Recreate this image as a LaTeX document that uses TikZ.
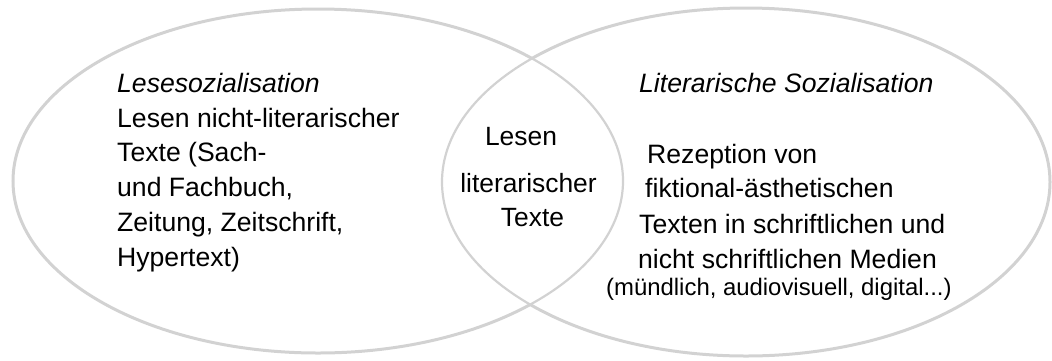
\documentclass[tikz,border=0pt]{standalone}
\usepackage{fontspec}
\setmainfont{Liberation Sans}
\definecolor{ringgray}{RGB}{210,210,210}
\tikzset{
  ring/.style={draw=ringgray, line width=3pt},
  ringin/.style={draw=ringgray, line width=2.2pt},
  txt/.style={anchor=base west, inner sep=0pt, font=\fontsize{26.6}{30}\selectfont},
  ctxt/.style={anchor=base, inner sep=0pt, font=\fontsize{26.4}{30}\selectfont},
  smalltxt/.style={anchor=base west, inner sep=0pt, font=\fontsize{23.9}{27}\selectfont}
}
\begin{document}
\begin{tikzpicture}[x=1pt,y=-1pt]
\useasboundingbox (0,0) rectangle (1052,360);
% ellipses: outer parts thicker, inner (lens) parts thinner
\begin{scope}[even odd rule]
  \clip (-10,-10) rectangle (1062,370) (746,182) ellipse [x radius=304, y radius=174];
  \draw[ring] (318,181) ellipse [x radius=305, y radius=172];
\end{scope}
\begin{scope}
  \clip (746,182) ellipse [x radius=304, y radius=174];
  \draw[ringin] (318,181) ellipse [x radius=305, y radius=172];
\end{scope}
\begin{scope}[even odd rule]
  \clip (-10,-10) rectangle (1062,370) (318,181) ellipse [x radius=305, y radius=172];
  \draw[ring] (746,182) ellipse [x radius=304, y radius=174];
\end{scope}
\begin{scope}
  \clip (318,181) ellipse [x radius=305, y radius=172];
  \draw[ringin] (746,182) ellipse [x radius=304, y radius=174];
\end{scope}
% left text
\node[txt] (l1) at (117,92) {\itshape Lesesozialisation};
\node[txt] (l2) at (117,127) {Lesen nicht-literarischer};
\node[txt] (l3) at (117,161.5) {Texte (Sach-};
\node[txt] (l4) at (117,196.5) {und Fachbuch,};
\node[txt] (l5) at (117,231) {Zeitung, Zeitschrift,};
\node[txt] (l6) at (117,266) {Hypertext)};
% lens text
\node[ctxt] (m1) at (521,145) {Lesen};
\node[ctxt] (m2) at (528.5,192) {literarischer};
\node[ctxt] (m3) at (532.5,226) {Texte};
% right text
\node[txt] (r1) at (639,92) {\itshape Literarische Sozialisation};
\node[txt] (r2) at (647,163) {Rezeption von};
\node[txt] (r3) at (645,197.5) {fiktional-ästhetischen};
\node[txt] (r4) at (639,233) {Texten in schriftlichen und};
\node[txt] (r5) at (638,268) {nicht schriftlichen Medien};
\node[smalltxt] (r6) at (606,295) {(mündlich, audiovisuell, digital...)};
\end{tikzpicture}
\end{document}
